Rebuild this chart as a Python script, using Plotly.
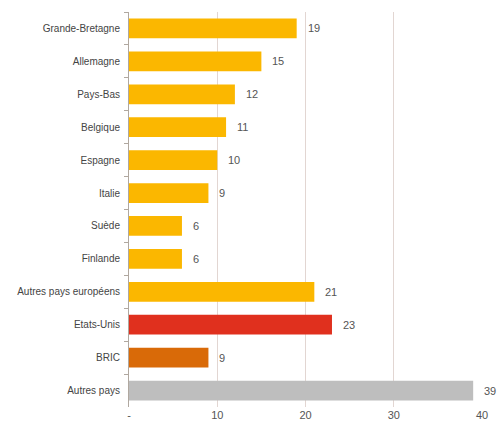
import plotly.graph_objects as go

categories = ["Grande-Bretagne", "Allemagne", "Pays-Bas", "Belgique", "Espagne", "Italie",
              "Suède", "Finlande", "Autres pays européens", "Etats-Unis", "BRIC", "Autres pays"]
values = [19, 15, 12, 11, 10, 9, 6, 6, 21, 23, 9, 39]
colors = ["#FBB700"] * 9 + ["#E0301E", "#D96A08", "#BEBEBE"]
tick_vals = [0, 10, 20, 30, 40]
tick_text = ["-", "10", "20", "30", "40"]

fig = go.Figure()
fig.add_trace(go.Bar(
    x=values, y=categories, orientation="h",
    marker=dict(color=colors, line=dict(width=0)),
    width=0.6,
))
for c, v in zip(categories, values):
    fig.add_annotation(x=v, y=c, text=str(v), showarrow=False, xanchor="left",
                       xshift=9, font=dict(family="Liberation Sans, Arial", size=11, color="#555555"))

fig.update_layout(
    width=500, height=433,
    margin=dict(l=129, r=16, t=12, b=16),
    paper_bgcolor="white", plot_bgcolor="white",
    showlegend=False,
    font=dict(family="Liberation Sans, Arial", size=10, color="#444444"),
)
fig.update_xaxes(range=[0, 40], tickvals=tick_vals, ticktext=tick_text,
                 showgrid=True, gridcolor="#e2d6d2", gridwidth=1, zeroline=False,
                 showline=False, ticks="", tickfont=dict(size=11, color="#555555"))
fig.update_yaxes(categoryorder="array", categoryarray=categories, autorange="reversed",
                 showline=True, linecolor="#b0a8a0", linewidth=1,
                 ticks="outside", tickson="boundaries", ticklen=4, tickcolor="#b0a8a0",
                 ticklabelstandoff=6, tickfont=dict(size=10, color="#444444"))
fig.write_html("out.html")
